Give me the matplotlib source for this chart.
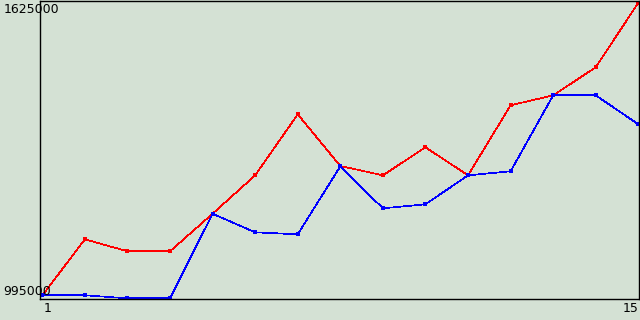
import matplotlib
matplotlib.use('Agg')
import matplotlib.pyplot as plt

# data
x = list(range(1, 16))
red = [1001000, 1120700, 1095200, 1095200, 1175300, 1257100, 1387100, 1277000,
       1257100, 1316800, 1257100, 1406300, 1427600, 1487300, 1625000]
blue = [1001400, 1001400, 995000, 995000, 1175300, 1135600, 1131400, 1276300,
        1186800, 1195300, 1257100, 1265700, 1427600, 1427600, 1365800]

y_min, y_max = 995000, 1625000
bg = '#d4e1d4'

fig = plt.figure(figsize=(6.4, 3.2), dpi=100, facecolor=bg)
ax = fig.add_axes([40 / 640, 21 / 320, 599 / 640, 298.5 / 320], facecolor=bg)

ax.plot(x, red, color='#ff0000', lw=0.5, marker='s', ms=2.2, mew=0, antialiased=False)
ax.plot(x, blue, color='#0000ff', lw=0.5, marker='s', ms=2.2, mew=0, antialiased=False)

ax.set_xlim(0.946, 15.016)
ax.set_ylim(993500, 1629700)
ax.set_xticks([])
ax.set_yticks([])
for s in ax.spines.values():
    s.set_linewidth(1.0)
    s.set_color('black')

# axis labels drawn as plain text like the original
fig.text(4 / 640, 1 - 3 / 320, str(y_max), fontsize=9, ha='left', va='top', zorder=5)
fig.text(3 / 640, 1 - 298 / 320, str(y_min), fontsize=9, ha='left', va='bottom', zorder=5)
fig.text(44 / 640, 1 - 302 / 320, str(x[0]), fontsize=9, ha='left', va='top')
fig.text(639 / 640, 1 - 302 / 320, str(x[-1]), fontsize=9, ha='right', va='top')

fig.savefig('out.png', dpi=100, facecolor=bg)
